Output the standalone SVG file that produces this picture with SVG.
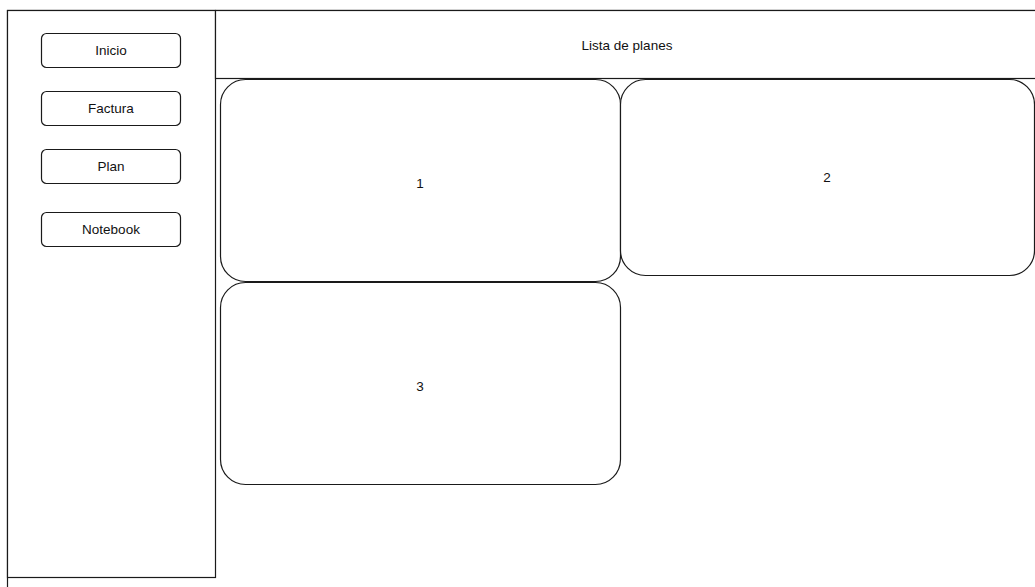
<svg xmlns="http://www.w3.org/2000/svg" width="1035" height="587" viewBox="0 0 1035 587">
<style>
.box{fill:#fff;stroke:#1a1a1a;stroke-width:1.2}
.t{font-family:"Liberation Sans",Arial,sans-serif;font-size:13.5px;fill:#111;text-anchor:middle;dominant-baseline:central}
</style>
<rect x="0" y="0" width="1035" height="587" fill="#fff"/>
<g id="frame"><rect class="box" x="7.5" y="10.5" width="1100" height="700"/></g>
<g id="sidebar"><rect class="box" x="7.5" y="10.5" width="208" height="567"/></g>
<g id="header"><rect class="box" x="215.5" y="10.5" width="900" height="68"/><text class="t" x="627" y="45">Lista de planes</text></g>
<g id="btn-inicio"><rect class="box" x="41.5" y="33.5" width="139" height="34" rx="5"/><text class="t" x="111" y="50">Inicio</text></g>
<g id="btn-factura"><rect class="box" x="41.5" y="91.5" width="139" height="34" rx="5"/><text class="t" x="111" y="108">Factura</text></g>
<g id="btn-plan"><rect class="box" x="41.5" y="149.5" width="139" height="34" rx="5"/><text class="t" x="111" y="166">Plan</text></g>
<g id="btn-notebook"><rect class="box" x="41.5" y="212.5" width="139" height="34" rx="5"/><text class="t" x="111" y="229">Notebook</text></g>
<g id="card-1"><rect class="box" x="220.5" y="79.5" width="400" height="202" rx="25"/><text class="t" x="420" y="183">1</text></g>
<g id="card-2"><rect class="box" x="620.5" y="79.5" width="414" height="196" rx="25"/><text class="t" x="827" y="177">2</text></g>
<g id="card-3"><rect class="box" x="220.5" y="282.5" width="400" height="202" rx="25"/><text class="t" x="420" y="386">3</text></g>
<g id="connectors"></g>
</svg>
